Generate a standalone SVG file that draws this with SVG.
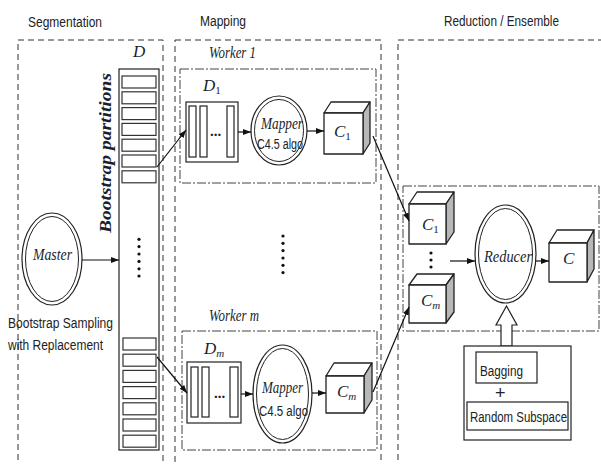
<svg xmlns="http://www.w3.org/2000/svg" width="601" height="464" viewBox="0 0 601 464">
<defs>
<marker id="ah" markerWidth="8" markerHeight="6" refX="8" refY="3" orient="auto" markerUnits="userSpaceOnUse">
<path d="M0,0 L8,3 L0,6 z" fill="#111"/>
</marker>
<style>
.panel{fill:none;stroke:#333;stroke-width:1;stroke-dasharray:6,4}
.worker{fill:none;stroke:#444;stroke-width:1;stroke-dasharray:9,2,2,2}
.box{fill:#fff;stroke:#222;stroke-width:1.2}
.slot{fill:#fff;stroke:#333;stroke-width:1.2}
.ring{fill:#fff;stroke:#222;stroke-width:1.2}
.ring2{fill:none;stroke:#222;stroke-width:1}
.face{fill:#fff;stroke:#222;stroke-width:1.3;stroke-linejoin:round}
.side{fill:#b8b8b8;stroke:#222;stroke-width:1.3;stroke-linejoin:round}
.conn{fill:none;stroke:#111;stroke-width:1.2;marker-end:url(#ah)}
.sans{font-family:"Liberation Sans","Open Sans",sans-serif;font-size:15.5px;fill:#222}
.ital{font-family:"Liberation Serif","DejaVu Serif",serif;font-style:italic;font-size:17px;fill:#1a1f2e}
.sub{font-style:normal;font-size:11px}
.dot{fill:#111}
</style>
</defs>

<!-- section titles -->
<text class="sans" x="28" y="27" textLength="74" lengthAdjust="spacingAndGlyphs">Segmentation</text>
<text class="sans" x="200" y="26" textLength="46" lengthAdjust="spacingAndGlyphs">Mapping</text>
<text class="sans" x="444" y="26" textLength="115" lengthAdjust="spacingAndGlyphs">Reduction / Ensemble</text>

<!-- panels -->
<rect class="panel" x="18" y="40" width="145" height="440"/>
<rect class="panel" x="175" y="40" width="206" height="440"/>
<rect class="panel" x="398" y="40" width="220" height="440"/>

<!-- Master -->
<g id="master">
<ellipse class="ring" cx="52" cy="259" rx="30" ry="46"/>
<ellipse class="ring2" cx="52" cy="259" rx="26.5" ry="42.5"/>
<text class="ital" x="33" y="260" textLength="39" lengthAdjust="spacingAndGlyphs">Master</text>
<text class="sans" x="8" y="328" textLength="105" lengthAdjust="spacingAndGlyphs">Bootstrap Sampling</text>
<text class="sans" x="8" y="350" textLength="95" lengthAdjust="spacingAndGlyphs">with Replacement</text>
</g>

<!-- D column -->
<g id="dataset">
<text class="ital" x="133" y="57" font-size="18">D</text>
<text class="ital" font-weight="bold" font-size="16" transform="translate(111,233) rotate(-90)" textLength="160" lengthAdjust="spacingAndGlyphs">Bootstrap partitions</text>
<rect class="box" x="119" y="69" width="40" height="381"/>
<rect class="slot" x="122" y="76" width="34" height="12"/>
<rect class="slot" x="122" y="91.8" width="34" height="12"/>
<rect class="slot" x="122" y="107.6" width="34" height="12"/>
<rect class="slot" x="122" y="123.4" width="34" height="12"/>
<rect class="slot" x="122" y="139.2" width="34" height="12"/>
<rect class="slot" x="122" y="155" width="34" height="12"/>
<rect class="slot" x="122" y="170.8" width="34" height="12"/>
<circle class="dot" cx="139" cy="239.3" r="1.6"/>
<circle class="dot" cx="139" cy="246.6" r="1.6"/>
<circle class="dot" cx="139" cy="254" r="1.6"/>
<circle class="dot" cx="139" cy="261.4" r="1.6"/>
<circle class="dot" cx="139" cy="268.8" r="1.6"/>
<circle class="dot" cx="139" cy="276" r="1.6"/>
<rect class="slot" x="123" y="338" width="33" height="12"/>
<rect class="slot" x="123" y="354.2" width="33" height="12"/>
<rect class="slot" x="123" y="370.4" width="33" height="12"/>
<rect class="slot" x="123" y="386.6" width="33" height="12"/>
<rect class="slot" x="123" y="402.8" width="33" height="12"/>
<rect class="slot" x="123" y="419" width="33" height="12"/>
<rect class="slot" x="123" y="435.2" width="33" height="12"/>
</g>

<!-- Worker 1 -->
<g id="worker1">
<text class="ital" x="209" y="58" textLength="47" lengthAdjust="spacingAndGlyphs">Worker 1</text>
<rect class="worker" x="180" y="69" width="196" height="114"/>
<text class="ital" x="203" y="91" font-size="18">D<tspan class="sub" dy="3">1</tspan></text>
<rect class="box" x="186" y="102" width="52" height="60"/>
<rect class="box" x="189" y="106" width="7" height="51"/>
<rect class="box" x="200" y="106" width="7" height="51"/>
<rect class="box" x="227" y="106" width="7" height="51"/>
<text x="210" y="136" font-family="Liberation Serif,serif" font-size="15" font-weight="bold" fill="#222">...</text>
<ellipse class="ring" cx="279" cy="130.5" rx="28" ry="34.5"/>
<ellipse class="ring2" cx="279" cy="130.5" rx="24.5" ry="31"/>
<text class="ital" x="261" y="129" font-size="16" textLength="42" lengthAdjust="spacingAndGlyphs">Mapper</text>
<text class="sans" x="257" y="149" font-size="14.5" textLength="46" lengthAdjust="spacingAndGlyphs">C4.5 algo</text>
<polygon class="face" points="324,113 331,102 370,102 363,113"/>
<polygon class="side" points="363,113 370,102 370,143 363,154"/>
<rect class="face" x="324" y="113" width="39" height="41"/>
<text class="ital" x="334" y="137" font-size="18">C<tspan class="sub" dy="3">1</tspan></text>
</g>

<!-- middle dots -->
<g id="mapdots">
<circle class="dot" cx="283" cy="236" r="1.6"/>
<circle class="dot" cx="283" cy="243.3" r="1.6"/>
<circle class="dot" cx="283" cy="250.6" r="1.6"/>
<circle class="dot" cx="283" cy="258" r="1.6"/>
<circle class="dot" cx="283" cy="265.3" r="1.6"/>
<circle class="dot" cx="283" cy="272.6" r="1.6"/>
</g>

<!-- Worker m -->
<g id="workerm">
<text class="ital" x="209" y="321" textLength="50" lengthAdjust="spacingAndGlyphs">Worker m</text>
<rect class="worker" x="182" y="331" width="195" height="119"/>
<text class="ital" x="204" y="354" font-size="18">D<tspan font-size="11" dy="3">m</tspan></text>
<rect class="box" x="187" y="362" width="54" height="61"/>
<rect class="box" x="191" y="367" width="7" height="50"/>
<rect class="box" x="202" y="367" width="7" height="50"/>
<rect class="box" x="230" y="367" width="8" height="50"/>
<text x="214" y="398" font-family="Liberation Serif,serif" font-size="15" font-weight="bold" fill="#222">...</text>
<ellipse class="ring" cx="282.5" cy="394" rx="29.5" ry="49"/>
<ellipse class="ring2" cx="282.5" cy="394" rx="26" ry="45.5"/>
<text class="ital" x="262" y="393" textLength="41" lengthAdjust="spacingAndGlyphs">Mapper</text>
<text class="sans" x="259" y="416" textLength="49" lengthAdjust="spacingAndGlyphs">C4.5 algo</text>
<polygon class="face" points="326,376 334,363 372,363 364,376"/>
<polygon class="side" points="364,376 372,363 372,400 364,413"/>
<rect class="face" x="326" y="376" width="38" height="37"/>
<text class="ital" x="337" y="397" font-size="18">C<tspan font-size="11" dy="3">m</tspan></text>
</g>

<!-- Reduction -->
<g id="reducer">
<rect class="worker" x="403" y="186" width="196" height="145"/>
<polygon class="face" points="409,204 417,192 454,192 446,204"/>
<polygon class="side" points="446,204 454,192 454,232 446,244"/>
<rect class="face" x="409" y="204" width="37" height="40"/>
<text class="ital" x="422" y="230" font-size="18">C<tspan class="sub" dy="3">1</tspan></text>
<circle class="dot" cx="431" cy="253" r="1.6"/>
<circle class="dot" cx="431" cy="260" r="1.6"/>
<circle class="dot" cx="431" cy="267" r="1.6"/>
<polygon class="face" points="409,285 417,274 454,274 446,285"/>
<polygon class="side" points="446,285 454,274 454,312 446,323"/>
<rect class="face" x="409" y="285" width="37" height="38"/>
<text class="ital" x="421" y="306" font-size="18">C<tspan font-size="11" dy="3">m</tspan></text>
<ellipse class="ring" cx="505.5" cy="254" rx="30.5" ry="49"/>
<ellipse class="ring2" cx="505.5" cy="254" rx="27" ry="45.5"/>
<text class="ital" x="484" y="262" textLength="48" lengthAdjust="spacingAndGlyphs">Reducer</text>
<polygon class="face" points="549,243 557,230 594,230 587,243"/>
<polygon class="side" points="587,243 594,230 594,269 587,282"/>
<rect class="face" x="549" y="243" width="38" height="39"/>
<text class="ital" x="563" y="264" font-size="18">C</text>
</g>

<!-- Bagging + Random Subspace -->
<g id="methods">
<polygon fill="#fff" stroke="#222" stroke-width="1.2" points="506.5,306 517,325 512,325 512,346 501,346 501,325 496,325"/>
<rect class="box" x="464" y="346" width="107" height="94"/>
<rect class="box" x="476" y="352" width="61" height="31"/>
<text class="sans" x="480" y="376" textLength="43" lengthAdjust="spacingAndGlyphs">Bagging</text>
<text x="495" y="399" font-family="Liberation Sans,sans-serif" font-size="18" fill="#222">+</text>
<rect class="box" x="467" y="402" width="101" height="28"/>
<text class="sans" x="470" y="422" textLength="97" lengthAdjust="spacingAndGlyphs">Random Subspace</text>
</g>

<!-- connectors -->
<g id="connectors">
<path class="conn" d="M82,260 L119,260"/>
<path class="conn" d="M157,167 L186,130"/>
<path class="conn" d="M157,357 L187,393"/>
<path class="conn" d="M238,132 L251,132"/>
<path class="conn" d="M307,131 L324,131"/>
<path class="conn" d="M241,394 L253,394"/>
<path class="conn" d="M312,393 L326,393"/>
<path class="conn" d="M373,136 L409,221"/>
<path class="conn" d="M373,392 L409,307"/>
<path class="conn" d="M450,261 L475,261"/>
<path class="conn" d="M536,261 L549,261"/>
</g>
</svg>
